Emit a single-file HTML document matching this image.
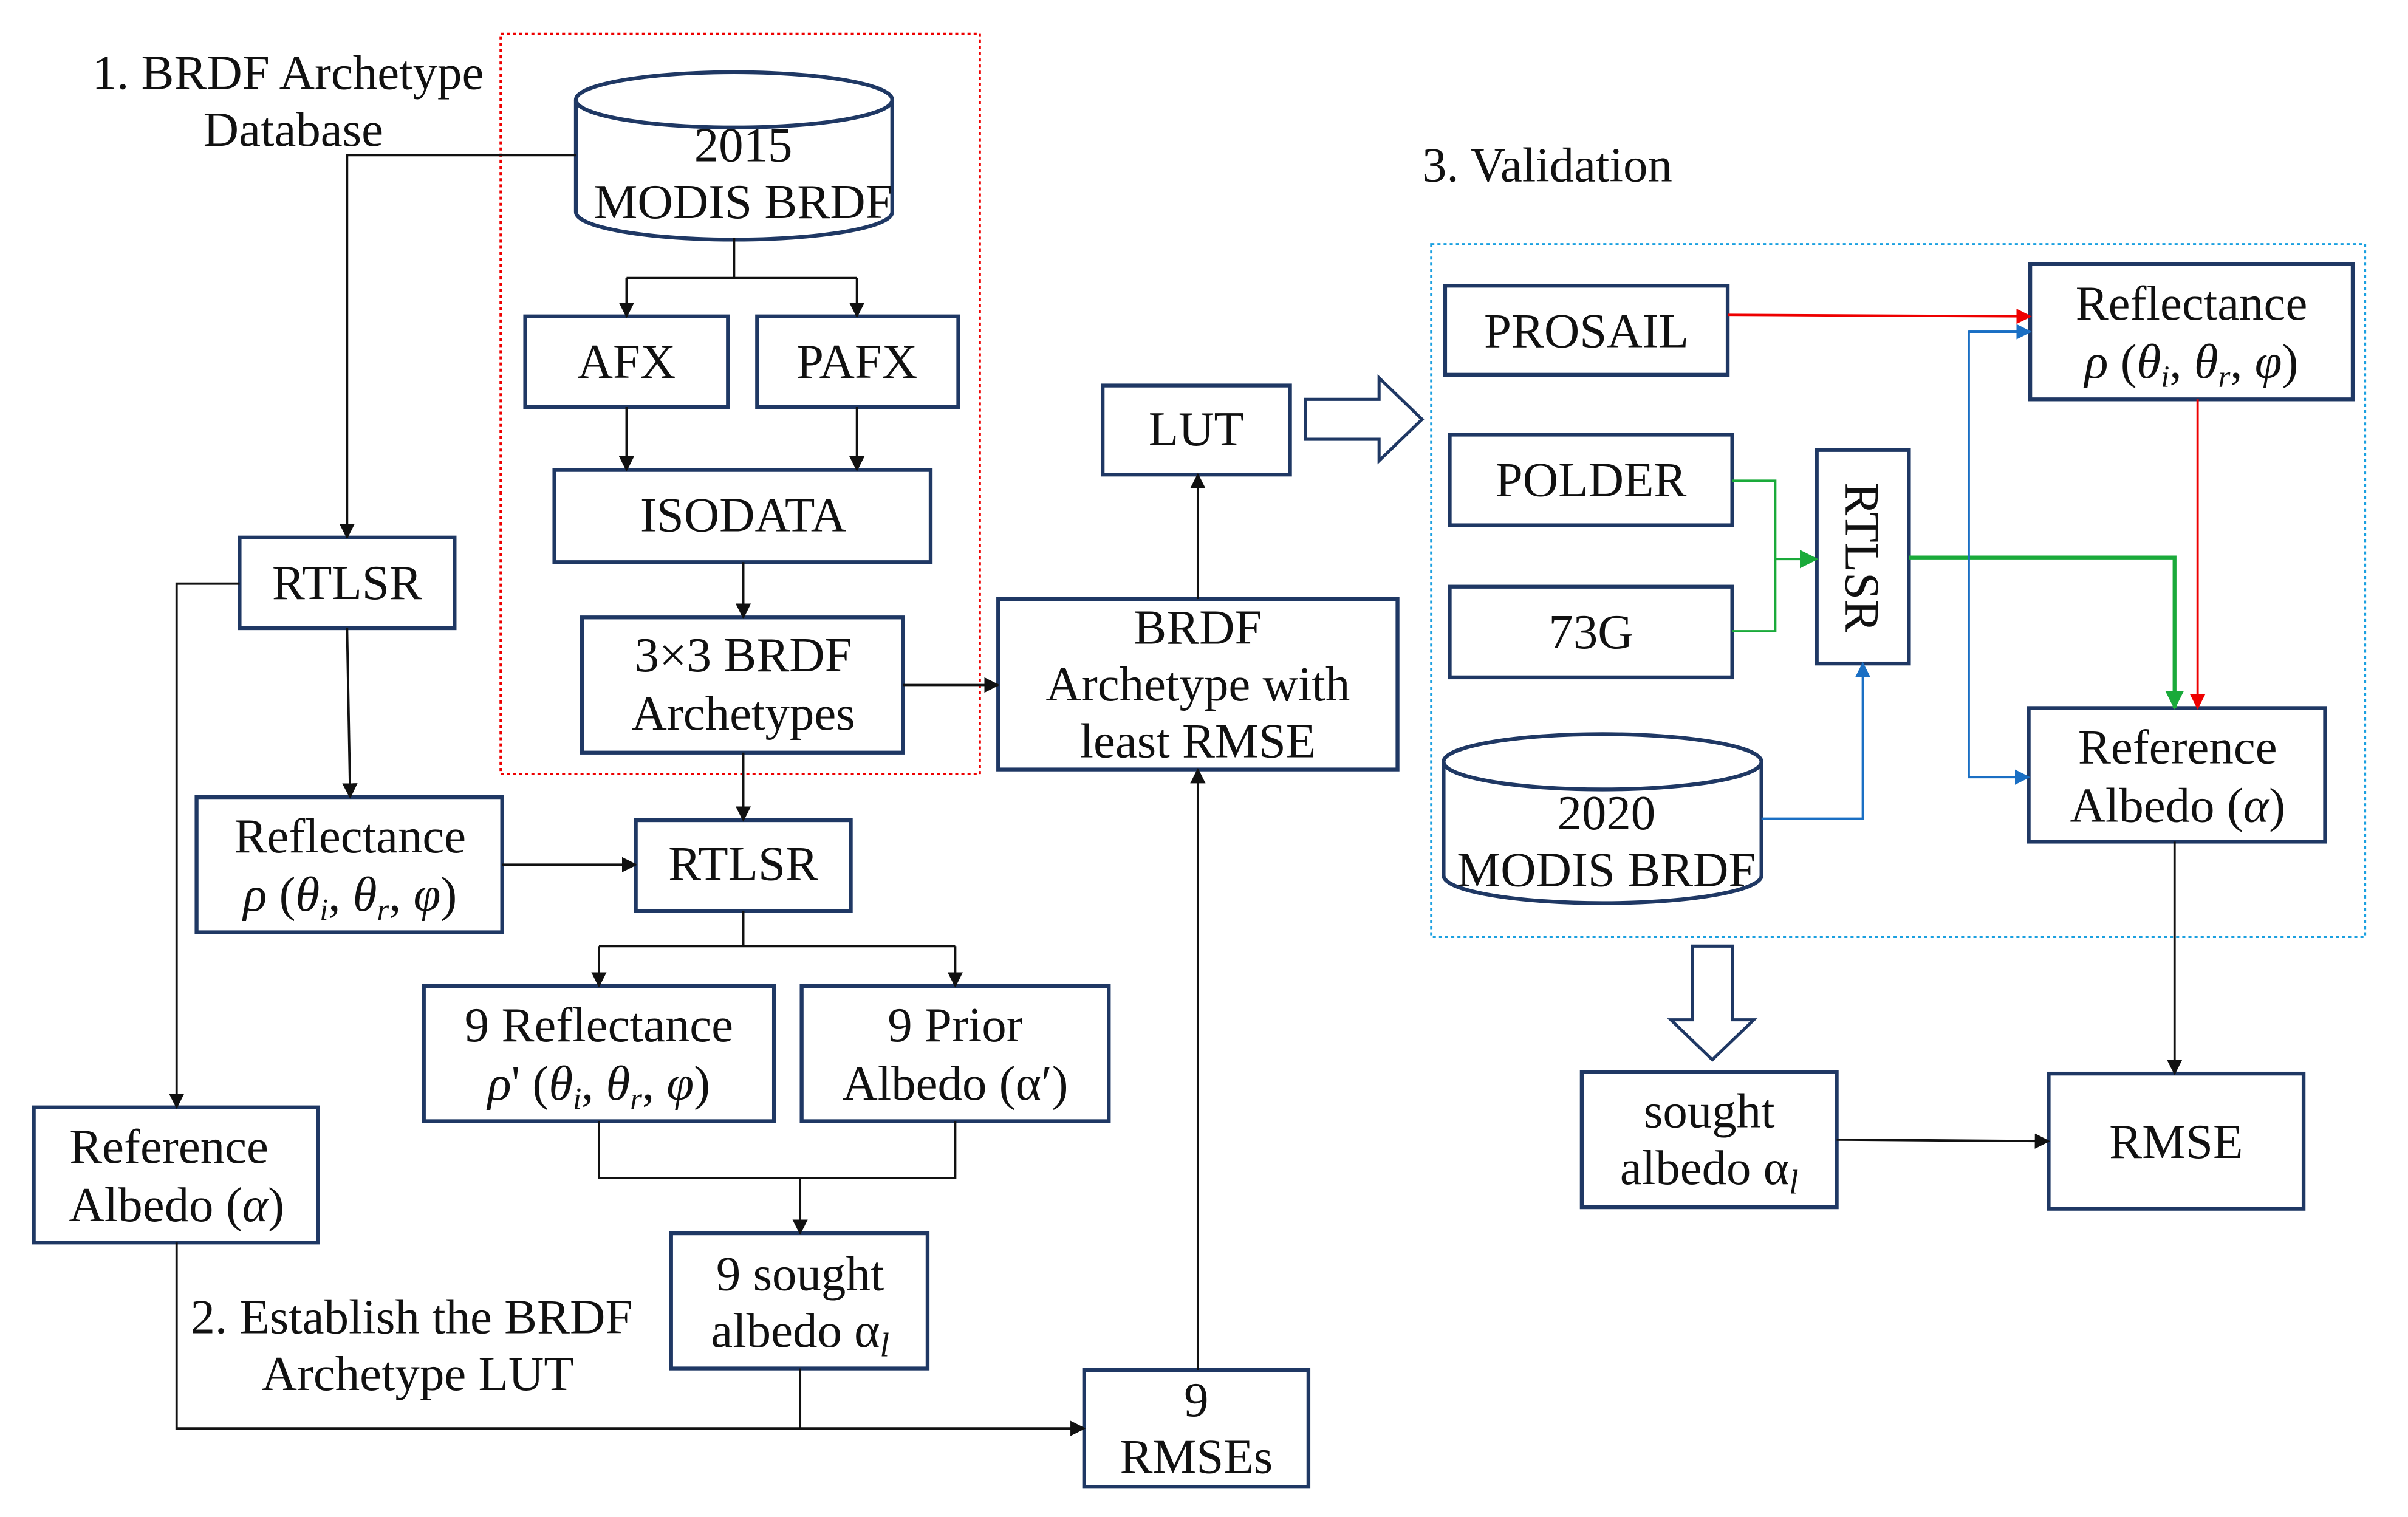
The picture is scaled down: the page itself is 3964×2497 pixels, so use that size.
<!DOCTYPE html>
<html><head><meta charset="utf-8"><style>
html,body{margin:0;padding:0;background:#fff;}
svg{display:block;}
text{font-family:"Liberation Serif",serif;font-size:32px;fill:#111;}
</style></head><body>
<svg width="3964" height="2497" viewBox="0 0 1568 987.7" preserveAspectRatio="none" xmlns="http://www.w3.org/2000/svg">
<defs>
<marker id="ak" markerWidth="10" markerHeight="10" refX="9" refY="5" orient="auto" markerUnits="userSpaceOnUse"><path d="M0,0 L10,5 L0,10 z" fill="#111"/></marker>
<marker id="ar" markerWidth="10" markerHeight="10" refX="9" refY="5" orient="auto" markerUnits="userSpaceOnUse"><path d="M0,0 L10,5 L0,10 z" fill="#e00"/></marker>
<marker id="ag" markerWidth="12" markerHeight="12" refX="11" refY="6" orient="auto" markerUnits="userSpaceOnUse"><path d="M0,0 L12,6 L0,12 z" fill="#1aaa3a"/></marker>
<marker id="ab" markerWidth="10" markerHeight="10" refX="9" refY="5" orient="auto" markerUnits="userSpaceOnUse"><path d="M0,0 L10,5 L0,10 z" fill="#1a6fc4"/></marker>
</defs>
<rect x="326" y="22" width="312" height="482" fill="none" stroke="#e00" stroke-width="1.5" stroke-dasharray="2,2"/>
<rect x="932" y="159" width="608" height="451" fill="none" stroke="#1aa0e0" stroke-width="1.5" stroke-dasharray="2,2"/>

<g fill="none" stroke="#1f3864" stroke-width="2.5">
<rect x="342" y="206" width="132" height="59"/>
<rect x="493" y="206" width="131" height="59"/>
<rect x="361" y="306" width="245" height="60"/>
<rect x="379" y="402" width="209" height="88"/>
<rect x="650" y="390" width="260" height="111"/>
<rect x="718" y="251" width="122" height="58"/>
<rect x="156" y="350" width="140" height="59"/>
<rect x="128" y="519" width="199" height="88"/>
<rect x="414" y="534" width="140" height="59"/>
<rect x="276" y="642" width="228" height="88"/>
<rect x="522" y="642" width="200" height="88"/>
<rect x="437" y="803" width="167" height="88"/>
<rect x="22" y="721" width="185" height="88"/>
<rect x="706" y="892" width="146" height="76"/>
<rect x="941" y="186" width="184" height="58"/>
<rect x="944" y="283" width="184" height="59"/>
<rect x="944" y="382" width="184" height="59"/>
<rect x="1183" y="293" width="60" height="139"/>
<rect x="1322" y="172" width="210" height="88"/>
<rect x="1321" y="461" width="193" height="87"/>
<rect x="1334" y="699" width="166" height="88"/>
<rect x="1030" y="698" width="166" height="88"/>
<path d="M375,65 L375,138 A103,18 0 0 0 581,138 L581,65" fill="#fff"/>
<ellipse cx="478" cy="65" rx="103" ry="18" fill="#fff"/>
<path d="M940,496 L940,570 A103.5,18 0 0 0 1147,570 L1147,496" fill="#fff"/>
<ellipse cx="1043.5" cy="496" rx="103.5" ry="18" fill="#fff"/>
<path d="M850,260 L898,260 L898,246 L926,273 L898,300 L898,286 L850,286 Z" stroke-width="2"/>
<path d="M1102,616 L1128,616 L1128,664 L1142,664 L1115,690 L1088,664 L1102,664 Z" stroke-width="2"/>
</g>

<g fill="none" stroke="#111" stroke-width="1.5">
<path d="M375,101 L226,101 L226,350" marker-end="url(#ak)"/>
<path d="M478,155 L478,181 M408,181 L558,181"/>
<path d="M408,181 L408,206" marker-end="url(#ak)"/>
<path d="M558,181 L558,206" marker-end="url(#ak)"/>
<path d="M408,265 L408,306" marker-end="url(#ak)"/>
<path d="M558,265 L558,306" marker-end="url(#ak)"/>
<path d="M484,366 L484,402" marker-end="url(#ak)"/>
<path d="M588,446 L650,446" marker-end="url(#ak)"/>
<path d="M780,390 L780,309" marker-end="url(#ak)"/>
<path d="M156,380 L115,380 L115,721" marker-end="url(#ak)"/>
<path d="M226,409 L228,519" marker-end="url(#ak)"/>
<path d="M327,563 L414,563" marker-end="url(#ak)"/>
<path d="M484,490 L484,534" marker-end="url(#ak)"/>
<path d="M484,593 L484,616 M390,616 L622,616"/>
<path d="M390,616 L390,642" marker-end="url(#ak)"/>
<path d="M622,616 L622,642" marker-end="url(#ak)"/>
<path d="M390,730 L390,767 L622,767 L622,730 M521,767 L521,803" marker-end="url(#ak)"/>
<path d="M115,809 L115,930 L706,930" marker-end="url(#ak)"/>
<path d="M521,891 L521,930"/>
<path d="M780,892 L780,501" marker-end="url(#ak)"/>
<path d="M1416,548 L1416,699" marker-end="url(#ak)"/>
<path d="M1196,742 L1334,743" marker-end="url(#ak)"/>
</g>
<g fill="none" stroke-width="1.5">
<path d="M1125,205 L1322,206" stroke="#e00" marker-end="url(#ar)"/>
<path d="M1431,260 L1431,461" stroke="#e00" marker-end="url(#ar)"/>
<path d="M1128,313 L1156,313 L1156,411 L1128,411 M1156,364 L1183,364" stroke="#1aaa3a" marker-end="url(#ag)"/>
<path d="M1243,363 L1416,363 L1416,461" stroke="#1aaa3a" stroke-width="2.5" marker-end="url(#ag)"/>
<path d="M1147,533 L1213,533 L1213,432" stroke="#1a6fc4" marker-end="url(#ab)"/>
<path d="M1322,216 L1282,216 L1282,506 L1321,506" stroke="#1a6fc4" marker-end="url(#ab)"/>
<path d="M1282,216 L1322,216" stroke="#1a6fc4" marker-end="url(#ab)"/>
</g>

<text x="60" y="58">1. BRDF Archetype</text>
<text x="191" y="95" text-anchor="middle">Database</text>
<text x="484" y="105" text-anchor="middle">2015</text>
<text x="484" y="142" text-anchor="middle">MODIS BRDF</text>
<text x="408" y="246" text-anchor="middle">AFX</text>
<text x="558" y="246" text-anchor="middle">PAFX</text>
<text x="484" y="346" text-anchor="middle">ISODATA</text>
<text x="484" y="437" text-anchor="middle">3×3 BRDF</text>
<text x="484" y="475" text-anchor="middle">Archetypes</text>
<text x="780" y="419" text-anchor="middle">BRDF</text>
<text x="780" y="456" text-anchor="middle">Archetype with</text>
<text x="780" y="493" text-anchor="middle">least RMSE</text>
<text x="779" y="290" text-anchor="middle">LUT</text>
<text x="226" y="390" text-anchor="middle">RTLSR</text>
<text x="228" y="555" text-anchor="middle">Reflectance</text>
<text x="228" y="593" text-anchor="middle"><tspan font-style="italic">ρ</tspan> (<tspan font-style="italic">θ</tspan><tspan font-size="20" dy="6" font-style="italic">i</tspan><tspan dy="-6">, </tspan><tspan font-style="italic">θ</tspan><tspan font-size="20" dy="6" font-style="italic">r</tspan><tspan dy="-6">, </tspan><tspan font-style="italic">φ</tspan>)</text>
<text x="484" y="573" text-anchor="middle">RTLSR</text>
<text x="390" y="678" text-anchor="middle">9 Reflectance</text>
<text x="390" y="716" text-anchor="middle"><tspan font-style="italic">ρ</tspan>' (<tspan font-style="italic">θ</tspan><tspan font-size="20" dy="6" font-style="italic">i</tspan><tspan dy="-6">, </tspan><tspan font-style="italic">θ</tspan><tspan font-size="20" dy="6" font-style="italic">r</tspan><tspan dy="-6">, </tspan><tspan font-style="italic">φ</tspan>)</text>
<text x="622" y="678" text-anchor="middle">9 Prior</text>
<text x="622" y="716" text-anchor="middle">Albedo (α′)</text>
<text x="521" y="840" text-anchor="middle">9 sought</text>
<text x="521" y="877" text-anchor="middle">albedo α<tspan font-size="22" dy="6" font-style="italic">l</tspan></text>
<text x="110" y="757" text-anchor="middle">Reference</text>
<text x="115" y="795" text-anchor="middle">Albedo (<tspan font-style="italic">α</tspan>)</text>
<text x="779" y="922" text-anchor="middle">9</text>
<text x="779" y="959" text-anchor="middle">RMSEs</text>
<text x="124" y="868">2. Establish the BRDF</text>
<text x="272" y="905" text-anchor="middle">Archetype LUT</text>
<text x="926" y="118">3. Validation</text>
<text x="1033" y="226" text-anchor="middle">PROSAIL</text>
<text x="1036" y="323" text-anchor="middle">POLDER</text>
<text x="1036" y="422" text-anchor="middle">73G</text>
<text x="1046" y="540" text-anchor="middle">2020</text>
<text x="1046" y="577" text-anchor="middle">MODIS BRDF</text>
<text x="0" y="0" text-anchor="middle" transform="translate(1202,363) rotate(90)">RTLSR</text>
<text x="1427" y="208" text-anchor="middle">Reflectance</text>
<text x="1427" y="246" text-anchor="middle"><tspan font-style="italic">ρ</tspan> (<tspan font-style="italic">θ</tspan><tspan font-size="20" dy="6" font-style="italic">i</tspan><tspan dy="-6">, </tspan><tspan font-style="italic">θ</tspan><tspan font-size="20" dy="6" font-style="italic">r</tspan><tspan dy="-6">, </tspan><tspan font-style="italic">φ</tspan>)</text>
<text x="1418" y="497" text-anchor="middle">Reference</text>
<text x="1418" y="535" text-anchor="middle">Albedo (<tspan font-style="italic">α</tspan>)</text>
<text x="1417" y="754" text-anchor="middle">RMSE</text>
<text x="1113" y="734" text-anchor="middle">sought</text>
<text x="1113" y="771" text-anchor="middle">albedo α<tspan font-size="22" dy="6" font-style="italic">l</tspan></text>
</svg>
</body></html>
